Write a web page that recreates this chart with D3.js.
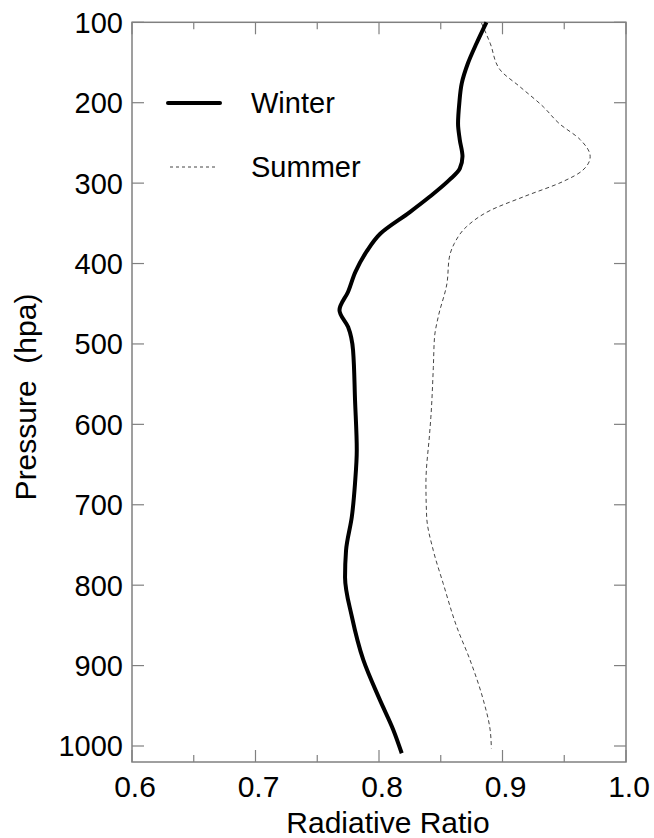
<!DOCTYPE html>
<html>
<head>
<meta charset="utf-8">
<script src="https://d3js.org/d3.v7.min.js"></script>
<style>
  body { margin: 0; background: #fff; }
  text { font-family: "Liberation Sans", Arial, Helvetica, sans-serif; fill: #000; }
</style>
</head>
<body>
<svg id="chart" width="654" height="838"></svg>
<script>
// pressure levels (hPa) and radiative ratio
var winterP = [100, 126, 151, 176, 201, 226, 246, 267, 282, 296, 317, 336, 363, 385, 410, 435, 458, 479, 508, 570, 632, 673, 715, 757, 790, 839, 893, 943, 980, 1009];
var winterR = [0.887, 0.879, 0.872, 0.867, 0.865, 0.864, 0.8654, 0.8676, 0.8654, 0.857, 0.841, 0.825, 0.801, 0.790, 0.781, 0.775, 0.768, 0.775, 0.779, 0.7806, 0.782, 0.7806, 0.778, 0.7733, 0.7725, 0.778, 0.7873, 0.8008, 0.8116, 0.8184];

var summerP = [101, 126, 159, 180, 205, 226, 246, 267, 284, 298, 317, 334, 354, 375, 392, 425, 466, 491, 529, 591, 611, 673, 715, 757, 798, 852, 893, 943, 980, 1003];
var summerR = [0.883, 0.890, 0.898, 0.914, 0.933, 0.946, 0.963, 0.971, 0.965, 0.949, 0.917, 0.890, 0.871, 0.861, 0.857, 0.855, 0.848, 0.845, 0.844, 0.842, 0.841, 0.838, 0.8386, 0.844, 0.852, 0.863, 0.8737, 0.8845, 0.890, 0.891];

var yTicks = [100, 200, 300, 400, 500, 600, 700, 800, 900, 1000];
var xMajor = [0.6, 0.7, 0.8, 0.9, 1.0];
var xMinor = [0.65, 0.75, 0.85, 0.95];

var svg = d3.select("#chart");
var plotL = 132, plotR = 626, plotT = 22.3, plotB = 762;

var x = d3.scaleLinear().domain([0.6, 1.0]).range([plotL, plotR]);
var y = d3.scaleLinear().domain([100, 1000]).range([plotT, 746]);

var frame = "#808080";

// frame
svg.append("rect")
    .attr("x", plotL).attr("y", plotT)
    .attr("width", plotR - plotL).attr("height", plotB - plotT)
    .attr("fill", "none").attr("stroke", frame).attr("stroke-width", 1.5);

// x ticks top and bottom, pointing inward
xMajor.concat(xMinor).forEach(function(v) {
  var len = xMajor.indexOf(v) >= 0 ? 12 : 7;
  svg.append("line").attr("x1", x(v)).attr("x2", x(v))
      .attr("y1", plotB).attr("y2", plotB - len)
      .attr("stroke", frame).attr("stroke-width", 1.2);
  svg.append("line").attr("x1", x(v)).attr("x2", x(v))
      .attr("y1", plotT).attr("y2", plotT + len)
      .attr("stroke", frame).attr("stroke-width", 1.2);
});

// y ticks left and right
yTicks.forEach(function(p) {
  svg.append("line").attr("x1", plotL).attr("x2", plotL + 12)
      .attr("y1", y(p)).attr("y2", y(p))
      .attr("stroke", frame).attr("stroke-width", 1.2);
  svg.append("line").attr("x1", plotR).attr("x2", plotR - 12)
      .attr("y1", y(p)).attr("y2", y(p))
      .attr("stroke", frame).attr("stroke-width", 1.2);
  svg.append("text").attr("x", plotL - 9).attr("y", y(p))
      .attr("dy", "0.36em")
      .attr("text-anchor", "end")
      .attr("font-size", 29)
      .text(p);
});

xMajor.forEach(function(v) {
  svg.append("text").attr("x", x(v) + 3).attr("y", 797)
      .attr("text-anchor", "middle")
      .attr("font-size", 30)
      .text(v.toFixed(1));
});

// axis titles
svg.append("text").attr("x", 388).attr("y", 833)
    .attr("text-anchor", "middle").attr("font-size", 30)
    .text("Radiative Ratio");

svg.append("text")
    .attr("transform", "translate(36,397) rotate(-90)")
    .attr("text-anchor", "middle").attr("font-size", 30)
    .attr("xml:space", "preserve")
    .text("Pressure  (hpa)");

// curves
var line = d3.line()
    .x(function(d) { return x(d[1]); })
    .y(function(d) { return y(d[0]); })
    .curve(d3.curveMonotoneY);

var winter = d3.zip(winterP, winterR);
var summer = d3.zip(summerP, summerR);

svg.append("path").datum(summer)
    .attr("fill", "none").attr("stroke", "#444")
    .attr("stroke-width", 1).attr("stroke-dasharray", "4,3")
    .attr("d", line);

svg.append("path").datum(winter)
    .attr("fill", "none").attr("stroke", "#000")
    .attr("stroke-width", 4).attr("stroke-linejoin", "round")
    .attr("d", line);

// legend
svg.append("line").attr("x1", 168).attr("x2", 220).attr("y1", 103).attr("y2", 103)
    .attr("stroke", "#000").attr("stroke-width", 4).attr("stroke-linecap", "round");
svg.append("text").attr("x", 251).attr("y", 113).attr("font-size", 29).text("Winter");

svg.append("line").attr("x1", 170).attr("x2", 216).attr("y1", 167).attr("y2", 167)
    .attr("stroke", "#444").attr("stroke-width", 1).attr("stroke-dasharray", "3,3");
svg.append("text").attr("x", 251).attr("y", 177).attr("font-size", 29).text("Summer");
</script>
</body>
</html>
